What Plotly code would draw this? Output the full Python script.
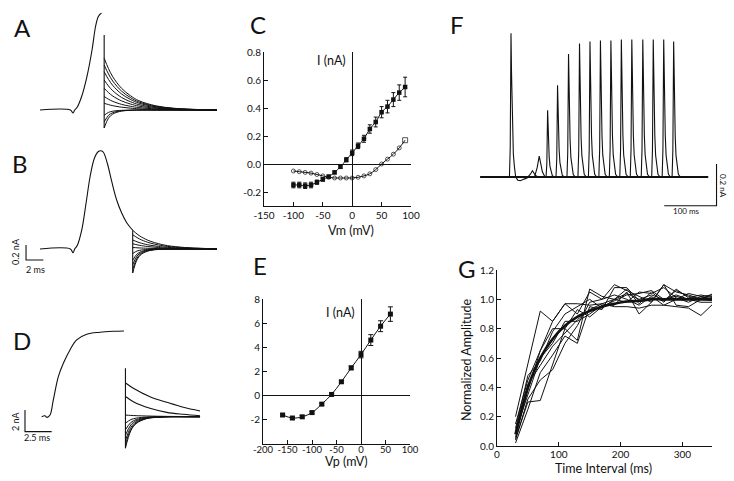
import plotly.graph_objects as go

W, H = 734, 481
INK = "#111111"
FONT = "Lato, 'Noto Sans', sans-serif"

# ---------------- A: prepulse current + tail family (ms, nA)
a_t = [0, 3.5, 3.8, 4.0, 4.3, 4.8, 5.4, 6.0, 6.4, 6.7, 6.95, 7.1]
a_i = [0, 0, -0.04, 0.0, 0.04, 0.18, 0.44, 0.80, 1.11, 1.24, 1.28, 1.29]
a_step = 7.4
a_step_span = [1.0, -0.24]
a_tail_amp = [0.69, 0.60, 0.51, 0.40, 0.29, 0.18, 0.09, -0.07, -0.16, -0.24]
a_end = 20.4

# ---------------- B
b_t = [0, 3.5, 3.8, 4.0, 4.31, 4.81, 5.31, 5.77, 6.27, 6.73, 7.04, 7.31, 7.77, 8.27, 8.85, 9.42, 10.0, 10.69]
b_i = [0, 0, -0.05, 0.0, 0.05, 0.25, 0.61, 0.96, 1.21, 1.30, 1.31, 1.29, 1.14, 0.90, 0.65, 0.48, 0.35, 0.25]
b_step = 10.69
b_step_span = [0.25, -0.32]
b_tail_amp = [0.25, 0.19, 0.12, 0.07, 0.02, -0.06, -0.15, -0.21, -0.27, -0.32]
b_end = 20.4

# tail time course, fraction of initial amplitude
tail_t = [0, 0.5, 1, 2, 3, 4, 6, 8, 10, 13]
tail_out = [1, 0.80, 0.64, 0.42, 0.28, 0.18, 0.08, 0.035, 0.015, 0]
tail_in = [1, 0.45, 0.22, 0.06, 0.02, 0, 0, 0, 0, 0]

# ---------------- D
d_t = [0, 0.3, 0.5, 0.78, 1.09, 1.56, 2.03, 2.65, 3.28, 4.22, 5.46, 6.71, 7.71]
d_i = [0, 0.08, -0.06, 0.15, 1.54, 3.69, 4.92, 6.15, 7.07, 7.59, 7.78, 7.87, 7.90]
d_step = 7.85
d_step_span = [4.46, -2.91]
d_slow_t = [7.9, 8.59, 10.15, 11.72, 13.27, 14.84]
d_slow1 = [3.08, 2.62, 1.84, 1.33, 0.87, 0.53]
d_slow2 = [1.84, 1.38, 0.77, 0.40, 0.22, 0.09]
d_tail_amp = [0.15, -0.6, -1.2, -1.7, -2.2, -2.6, -2.9]
d_end = 14.84

# ---------------- C: I-V (mV, nA)
c_v = [-100, -90, -80, -70, -60, -50, -40, -30, -20, -10, 0, 10, 20, 30, 40, 50, 60, 70, 80, 90]
c_i1 = [-0.15, -0.15, -0.155, -0.15, -0.13, -0.11, -0.09, -0.06, -0.02, 0.03, 0.08, 0.13, 0.18,
        0.25, 0.30, 0.37, 0.41, 0.46, 0.51, 0.55]
c_e1 = [0.02, 0.02, 0.02, 0.02, 0.015, 0.012, 0.01, 0.01, 0.01, 0.015, 0.02, 0.02, 0.025,
        0.03, 0.035, 0.04, 0.045, 0.05, 0.055, 0.07]
c_i2 = [-0.05, -0.055, -0.06, -0.065, -0.075, -0.085, -0.095, -0.10, -0.10, -0.10, -0.10, -0.095,
        -0.085, -0.07, -0.04, 0.0, 0.035, 0.07, 0.115, 0.17]

# ---------------- E: peak current vs prepulse (mV, nA)
e_v = [-160, -140, -120, -100, -80, -60, -40, -20, 0, 20, 40, 60]
e_i = [-1.6, -1.85, -1.75, -1.4, -0.7, 0.1, 1.15, 2.3, 3.4, 4.6, 5.75, 6.75]
e_err = [0.1, 0.1, 0.1, 0.1, 0.1, 0.1, 0.1, 0.15, 0.27, 0.45, 0.45, 0.6]

# ---------------- F: paired pulses (ms, nA)
f_first_t = [-59, -3, -1.5, 0, 1, 2, 3, 4.5, 6.5, 9, 13, 18, 25, 35, 377]
f_first_i = [0, 0, 0.14, 0.69, 0.50, 0.33, 0.21, 0.11, 0.05, 0.0, -0.015, -0.018, -0.01, 0, 0]
f_spike_t = [41, 54, 70, 89, 110, 131, 151, 171, 191, 211, 231, 252, 272, 292, 311]
f_spike_amp = [0.03, 0.10, 0.32, 0.44, 0.59, 0.64, 0.65, 0.655, 0.655, 0.66, 0.66, 0.66, 0.66, 0.66, 0.65]
spike_t = [-3, -1.5, 0, 1, 2, 3, 4.5, 6.5, 9, 13]
spike_f = [0, 0.2, 1, 0.72, 0.48, 0.3, 0.16, 0.07, 0.02, 0]
broad_t = [-9, -4, 0, 3, 6, 11]
broad_f = [0, 0.45, 1, 0.6, 0.25, 0]

# ---------------- G: recovery (ms, normalized)
g_x = [30, 50, 70, 90, 110, 130, 150, 170, 190, 210, 230, 250, 270, 290, 310, 330, 350]
g_mean = [0.08, 0.40, 0.60, 0.73, 0.82, 0.88, 0.92, 0.95, 0.97, 0.985, 0.99, 1.0, 1.0, 1.0, 1.0, 1.0, 1.0]
g_sweeps = [
    [0.20, 0.55, 0.92, 0.85, 0.97, 0.97, 0.96, 0.97, 1.00, 1.04, 1.00, 1.03, 1.00, 1.02, 1.00, 1.01, 1.02],
    [0.15, 0.45, 0.65, 0.85, 0.97, 0.90, 1.05, 1.00, 1.10, 1.06, 1.02, 0.98, 1.10, 1.05, 1.03, 1.00, 1.00],
    [0.05, 0.30, 0.31, 0.55, 0.80, 0.72, 1.07, 1.02, 1.00, 0.98, 1.05, 1.04, 1.08, 1.01, 0.98, 1.02, 1.03],
    [0.02, 0.25, 0.50, 0.62, 0.75, 0.70, 0.95, 0.93, 1.08, 1.08, 0.99, 1.01, 0.99, 1.06, 1.02, 1.00, 0.99],
    [0.10, 0.35, 0.60, 0.70, 0.85, 0.85, 0.90, 0.96, 0.96, 1.05, 0.90, 0.98, 1.10, 0.96, 0.95, 1.00, 1.04],
    [0.06, 0.38, 0.65, 0.80, 0.80, 0.93, 0.88, 0.95, 0.99, 1.03, 1.04, 1.06, 1.00, 1.03, 1.00, 0.98, 0.98],
    [0.04, 0.32, 0.45, 0.52, 0.70, 0.82, 0.98, 1.00, 1.03, 1.00, 0.96, 1.02, 0.96, 1.00, 1.04, 1.02, 1.00],
    [0.08, 0.42, 0.55, 0.68, 0.77, 0.86, 0.93, 0.97, 0.95, 0.95, 0.94, 0.96, 0.96, 0.95, 0.94, 0.89, 0.97],
    [0.12, 0.48, 0.58, 0.78, 0.90, 0.95, 1.00, 0.94, 1.00, 1.07, 0.97, 1.05, 0.98, 1.07, 1.01, 1.03, 1.01],
]


def dom_x(left, right):
    return [left / W, right / W]


def dom_y(top, bottom):
    return [1 - bottom / H, 1 - top / H]


fig = go.Figure()


def line(x, y, ax, width=1.1, shape="spline"):
    fig.add_trace(go.Scatter(
        x=x, y=y, mode="lines", xaxis="x" + ax, yaxis="y" + ax,
        line=dict(color=INK, width=width, shape=shape),
        showlegend=False, hoverinfo="skip"))


def tails(t0, amps, t_end, ax):
    for amp in amps:
        frac = tail_out if amp > 0 else tail_in
        keep = [(s, f) for s, f in zip(tail_t, frac) if t0 + s < t_end]
        line([t0 + s for s, _ in keep] + [t_end], [amp * f for _, f in keep] + [0], ax, width=1)


def scalebar(x0, y0, dx, dy, ax):
    line([x0, x0, x0 + dx], [y0 + dy, y0, y0], ax, width=1.1, shape="linear")


# A
line(a_t, a_i, "")
tails(a_step, a_tail_amp, a_end, "")
line([a_step, a_step], a_step_span, "", shape="linear")

# B
line(b_t, b_i, "2")
tails(b_step, b_tail_amp, b_end, "2")
line([b_step, b_step], b_step_span, "2", shape="linear")
scalebar(-1.61, -0.147, 2, 0.2, "2")

# D
line(d_t, d_i, "3")
line(d_slow_t, d_slow1, "3")
line(d_slow_t, d_slow2, "3")
tails(d_step, d_tail_amp, d_end, "3")
line([d_step, d_step], d_step_span, "3", shape="linear")
scalebar(-1.565, -1.38, 2.5, 2, "3")

# C
fig.add_trace(go.Scatter(
    x=c_v, y=c_i1, mode="lines+markers", xaxis="x4", yaxis="y4",
    line=dict(color=INK, width=1, shape="spline"),
    marker=dict(symbol="square", size=4.5, color=INK),
    error_y=dict(type="data", array=c_e1, color=INK, thickness=1, width=2),
    showlegend=False, hoverinfo="skip"))
fig.add_trace(go.Scatter(
    x=c_v, y=c_i2, mode="lines+markers", xaxis="x4", yaxis="y4",
    line=dict(color=INK, width=1, shape="spline"),
    marker=dict(symbol=["circle-open"] * (len(c_v) - 1) + ["square-open"],
                size=[4] * (len(c_v) - 1) + [5], color=INK, line=dict(width=1, color=INK)),
    showlegend=False, hoverinfo="skip"))

# E
fig.add_trace(go.Scatter(
    x=e_v, y=e_i, mode="lines+markers", xaxis="x5", yaxis="y5",
    line=dict(color=INK, width=1, shape="spline"),
    marker=dict(symbol="square", size=5, color=INK),
    error_y=dict(type="data", array=e_err, color=INK, thickness=1, width=2.5),
    showlegend=False, hoverinfo="skip"))

# F
line([f_first_t[0], f_first_t[-1]], [0, 0], "6", width=2, shape="linear")
line(f_first_t, f_first_i, "6", width=1.1, shape="linear")
for t0, amp in zip(f_spike_t, f_spike_amp):
    if amp < 0.2:
        line([t0 + s for s in broad_t], [amp * f for f in broad_f], "6", width=1.1, shape="linear")
    else:
        line([t0 + s for s in spike_t], [amp * f for f in spike_f], "6", width=1.1, shape="linear")
scalebar(393, -0.138, -100, 0.2, "6")

# G
for sweep in g_sweeps:
    line(g_x, sweep, "7", width=1, shape="linear")
line(g_x, g_mean, "7", width=2.6)

hidden = dict(visible=False, showgrid=False, zeroline=False)
tick_font = dict(family=FONT, size=10, color=INK)


def real_axis(**kw):
    base = dict(showline=True, linecolor=INK, linewidth=1, ticks="inside", ticklen=4,
                tickcolor=INK, tickwidth=1, showgrid=False, tickfont=tick_font, tickangle=0,
                zerolinecolor=INK, zerolinewidth=1, fixedrange=True, automargin=False)
    base.update(kw)
    return base


def labels(vals, fmt):
    return [fmt.format(v).replace("\u2212", "-") for v in vals]


c_xt = [-150, -100, -50, 0, 50, 100]
c_yt = [-0.2, 0.0, 0.2, 0.4, 0.6, 0.8]
e_xt = [-200, -150, -100, -50, 0, 50, 100]
e_yt = [-2, 0, 2, 4, 6, 8]
g_xt = [0, 100, 200, 300]
g_yt = [0.0, 0.2, 0.4, 0.6, 0.8, 1.0, 1.2]

fig.update_layout(
    width=W, height=H, autosize=False,
    margin=dict(l=0, r=0, t=0, b=0, pad=0),
    paper_bgcolor="white", plot_bgcolor="white",
    font=dict(family=FONT, color=INK),
    xaxis=dict(domain=dom_x(10, 230), range=[-3.46, 21.91], anchor="y", **hidden),
    yaxis=dict(domain=dom_y(5, 135), range=[-0.333, 1.4], anchor="x", **hidden),
    xaxis2=dict(domain=dom_x(10, 230), range=[-3.46, 21.91], anchor="y2", **hidden),
    yaxis2=dict(domain=dom_y(140, 285), range=[-0.48, 1.453], anchor="x2", **hidden),
    xaxis3=dict(domain=dom_x(10, 230), range=[-2.97, 17.65], anchor="y3", **hidden),
    yaxis3=dict(domain=dom_y(320, 460), range=[-3.99, 8.91], anchor="x3", **hidden),
    xaxis4=real_axis(domain=dom_x(264, 411), range=[-150, 100], anchor="y4",
                     tickvals=c_xt, ticktext=labels(c_xt, "{:d}"), zeroline=True),
    yaxis4=real_axis(domain=dom_y(52, 206), range=[-0.3, 0.8], anchor="x4",
                     tickvals=c_yt, ticktext=labels(c_yt, "{:.1f}"), zeroline=True),
    xaxis5=real_axis(domain=dom_x(263, 410), range=[-200, 100], anchor="y5",
                     tickvals=e_xt, ticktext=labels(e_xt, "{:d}"), zeroline=True,
                     ticklabelstandoff=-3, tickfont=dict(family=FONT, size=9.5, color=INK)),
    yaxis5=real_axis(domain=dom_y(299, 444), range=[-4, 8], anchor="x5",
                     tickvals=e_yt, ticktext=labels(e_yt, "{:d}"), zeroline=True),
    xaxis6=dict(domain=dom_x(470, 734), range=[-78.4, 426.4], anchor="y6", **hidden),
    yaxis6=dict(domain=dom_y(20, 220), range=[-0.206, 0.753], anchor="x6", **hidden),
    xaxis7=real_axis(domain=dom_x(497, 712), range=[0, 348], anchor="y7",
                     tickvals=g_xt, ticktext=labels(g_xt, "{:d}"), zeroline=False,
                     ticklabelstandoff=-1),
    yaxis7=real_axis(domain=dom_y(270, 446), range=[0, 1.2], anchor="x7",
                     tickvals=g_yt, ticktext=labels(g_yt, "{:.1f}"), zeroline=False),
)


def note(text, px, py, size=12, angle=0):
    fig.add_annotation(text=text, x=px / W, y=1 - py / H, xref="paper", yref="paper",
                       xanchor="center", yanchor="middle",
                       showarrow=False, textangle=angle, font=dict(family=FONT, size=size, color=INK))


for letter, px, py in [("A", 22, 27), ("B", 20, 163), ("D", 22, 340), ("C", 258, 25),
                       ("E", 260, 265), ("F", 457, 25), ("G", 467, 268)]:
    note(letter, px, py, size=24)

note("Vm (mV)", 351, 230, size=12.5)
note("Vp (mV)", 346, 461, size=12.5)
note("Time Interval (ms)", 603, 468, size=12.5)
note("Normalized Amplitude", 466, 360, size=12.5, angle=-90)
note("I (nA)", 331, 61, size=12.5)
note("I (nA)", 340, 312, size=12.5)
note("0.2 nA", 15, 252, size=9, angle=-90)
note("2 ms", 35, 269, size=9)
note("2 nA", 15, 421, size=9, angle=-90)
note("2.5 ms", 37, 437, size=9)
note("0.2 nA", 723, 186, size=8, angle=90)
note("100 ms", 686, 211, size=8)

# the page is photographed at exactly the figure size, so drop the default body margin
fig.write_html("out.html", config={"displayModeBar": False},
               post_script="document.body.style.margin='0';")
